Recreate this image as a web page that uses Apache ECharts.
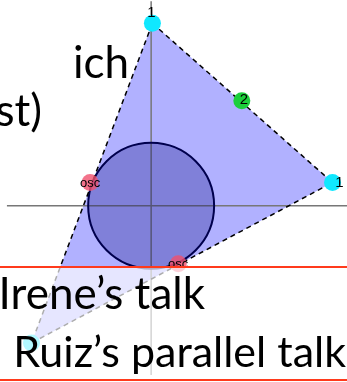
<!DOCTYPE html>
<html>
<head>
<meta charset="utf-8">
<script src="https://cdn.jsdelivr.net/npm/echarts@6/dist/echarts.min.js"></script>
<style>
html, body { margin: 0; padding: 0; background: #fff; }
#chart { width: 347px; height: 382px; }
</style>
</head>
<body>
<div id="chart"></div>
<script>
// triangle corners: top, right, bottom-left
var triangle = [[0.02, 2.9], [2.88, 0.37], [-1.9, -2.18]];
// circle inside: centre x, centre y, radius
var circle = [[0, 0, 1]];
// marked points with their labels
var cornerPts = [[0.02, 2.9, '1'], [2.88, 0.37, '1'], [-1.9, -2.18, '']];
var edgePts = [[1.44, 1.67, '2']];
var oscPts = [[-0.97, 0.37, 'osc'], [0.43, -0.92, 'osc']];
// the two axis lines
var hAxis = [[-2.29, 0], [3.11, 0]];
var vAxis = [[0, 3.25], [0, -2.69]];
// slide text
var slideText = ['ich', 'st)', 'Irene\u2019s talk', 'Ruiz\u2019s parallel talk'];

var chart = echarts.init(document.getElementById('chart'));

var labelFont = 'Liberation Sans, Arial, sans-serif';
var cornerOffsets = [[-1, -10], [7, 0], [0, 0]];

var option = {
  animation: false,
  grid: { left: 0, right: 0, top: 0, bottom: 0 },
  xAxis: { type: 'value', min: -2.4, max: 3.11, show: false },
  yAxis: { type: 'value', min: -2.8, max: 3.27, show: false },
  series: [
    {
      type: 'line', data: hAxis, symbol: 'none', silent: true, z: 1,
      lineStyle: { color: '#777', width: 1.5 }
    },
    {
      type: 'line', data: vAxis, symbol: 'none', silent: true, z: 1,
      lineStyle: { color: '#777', width: 1.5 }
    },
    {
      type: 'custom', z: 0,
      data: [[].concat(triangle[0], triangle[1], triangle[2])],
      renderItem: function (params, api) {
        var pts = [];
        for (var i = 0; i < 3; i++) pts.push(api.coord([api.value(i * 2), api.value(i * 2 + 1)]));
        return { type: 'polygon', shape: { points: pts }, style: { fill: 'rgba(100,100,255,0.5)' } };
      }
    },
    {
      type: 'custom', z: 2,
      data: circle,
      renderItem: function (params, api) {
        var c = api.coord([api.value(0), api.value(1)]);
        var r = api.size([api.value(2), 0])[0];
        return {
          type: 'circle', shape: { cx: c[0], cy: c[1], r: r },
          style: { fill: 'rgba(0,0,120,0.28)', stroke: '#00004d', lineWidth: 2 }
        };
      }
    },
    {
      type: 'line', data: triangle.concat([triangle[0]]), symbol: 'none', z: 3,
      lineStyle: { color: '#000', width: 1.5, type: [5, 4] }
    },
    {
      type: 'scatter', z: 4, symbolSize: 17,
      itemStyle: { color: '#10e8ff', opacity: 1 },
      data: cornerPts.map(function (p, i) {
        return { value: p, label: { offset: cornerOffsets[i] } };
      }),
      label: {
        show: true, position: 'inside', color: '#000', fontSize: 15, fontFamily: labelFont,
        formatter: function (p) { return p.value[2]; }
      }
    },
    {
      type: 'scatter', z: 4, symbolSize: 17,
      itemStyle: { color: '#1ccf3c', opacity: 1 },
      data: edgePts,
      label: {
        show: true, position: 'inside', offset: [2, -1], color: '#000', fontSize: 15, fontFamily: labelFont,
        formatter: function (p) { return p.value[2]; }
      }
    },
    {
      type: 'scatter', z: 4, symbolSize: 17,
      itemStyle: { color: 'rgba(240,80,110,0.8)', opacity: 1 },
      data: oscPts,
      label: {
        show: true, position: 'inside', offset: [0, 1], color: '#000', fontSize: 13, fontFamily: labelFont,
        formatter: function (p) { return p.value[2]; }
      }
    }
  ],
  graphic: [
    {
      type: 'rect', z: 100, silent: true,
      shape: { x: 0, y: 267, width: 347, height: 113 },
      style: { fill: 'rgba(255,255,255,0.68)' }
    },
    {
      type: 'line', z: 101, silent: true,
      shape: { x1: 0, y1: 267, x2: 347, y2: 267 },
      style: { stroke: '#ff3a1c', lineWidth: 2 }
    },
    {
      type: 'line', z: 101, silent: true,
      shape: { x1: 0, y1: 380, x2: 347, y2: 380 },
      style: { stroke: '#ff3a1c', lineWidth: 2 }
    },
    {
      type: 'text', z: 102, x: 129, y: 64,
      style: { text: slideText[0], font: '44px Lato', fill: '#000', textAlign: 'right', textVerticalAlign: 'middle' }
    },
    {
      type: 'text', z: 102, x: 42, y: 112,
      style: { text: slideText[1], font: '44px Lato', fill: '#000', textAlign: 'right', textVerticalAlign: 'middle' }
    },
    {
      type: 'text', z: 102, x: 205, y: 295,
      style: { text: slideText[2], font: '44px Lato', fill: '#000', textAlign: 'right', textVerticalAlign: 'middle' }
    },
    {
      type: 'text', z: 102, x: 346, y: 353,
      style: { text: slideText[3], font: '43px Lato', fill: '#000', textAlign: 'right', textVerticalAlign: 'middle' }
    }
  ]
};

chart.setOption(option);
</script>
</body>
</html>
